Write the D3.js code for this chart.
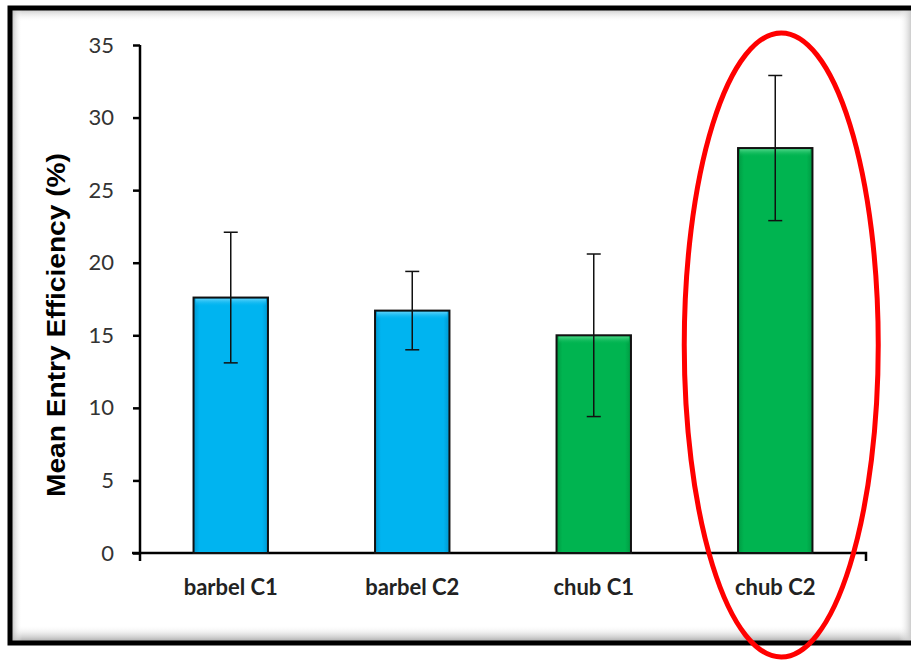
<!DOCTYPE html>
<html><head><meta charset="utf-8">
<script src="https://cdn.jsdelivr.net/npm/d3@7"></script>
<style>html,body{margin:0;padding:0;background:#fff;}svg{display:block;}</style>
</head><body>
<script>
const categories = ["barbel C1", "barbel C2", "chub C1", "chub C2"];
const means = [17.6, 16.7, 15.0, 27.9];
const errors = [4.5, 2.7, 5.6, 5.0];
const species = ["barbel", "barbel", "chub", "chub"];
const yTicks = [0, 5, 10, 15, 20, 25, 30, 35];
const highlighted = "chub C2";

const W = 911, H = 661;
const svg = d3.select("body").append("svg").attr("width", W).attr("height", H);
const defs = svg.append("defs");

// inner shadow gradients for the frame
const gTop = defs.append("linearGradient").attr("id","shT").attr("x1",0).attr("y1",0).attr("x2",0).attr("y2",1);
gTop.append("stop").attr("offset",0).attr("stop-color","#bbb");
gTop.append("stop").attr("offset",1).attr("stop-color","#fff").attr("stop-opacity",0);
const gBot = defs.append("linearGradient").attr("id","shB").attr("x1",0).attr("y1",1).attr("x2",0).attr("y2",0);
gBot.append("stop").attr("offset",0).attr("stop-color","#999");
gBot.append("stop").attr("offset",1).attr("stop-color","#fff").attr("stop-opacity",0);
const gL = defs.append("linearGradient").attr("id","shL").attr("x1",0).attr("y1",0).attr("x2",1).attr("y2",0);
gL.append("stop").attr("offset",0).attr("stop-color","#aaa");
gL.append("stop").attr("offset",1).attr("stop-color","#fff").attr("stop-opacity",0);
const gR = defs.append("linearGradient").attr("id","shR").attr("x1",1).attr("y1",0).attr("x2",0).attr("y2",0);
gR.append("stop").attr("offset",0).attr("stop-color","#ccc");
gR.append("stop").attr("offset",1).attr("stop-color","#fff").attr("stop-opacity",0);

// bar gradients (bevel look)
const fills = {barbel: {base:"#00B4F0", light:"#5fd2fa", dark:"#0098d0"}, chub: {base:"#00B450", light:"#4fd688", dark:"#009a42"}};
Object.entries(fills).forEach(([k, c]) => {
  const g = defs.append("linearGradient").attr("id","bar-"+k).attr("x1",0).attr("y1",0).attr("x2",1).attr("y2",0);
  g.append("stop").attr("offset",0).attr("stop-color",c.dark);
  g.append("stop").attr("offset",0.08).attr("stop-color",c.base);
  g.append("stop").attr("offset",0.92).attr("stop-color",c.base);
  g.append("stop").attr("offset",1).attr("stop-color",c.dark);
  const t = defs.append("linearGradient").attr("id","top-"+k).attr("x1",0).attr("y1",0).attr("x2",0).attr("y2",1);
  t.append("stop").attr("offset",0).attr("stop-color",c.light);
  t.append("stop").attr("offset",1).attr("stop-color",c.base).attr("stop-opacity",0);
});

// frame background with inner shadow
const fx = 10, fy = 8, fb = 643;
svg.append("rect").attr("x",fx).attr("y",fy).attr("width",W).attr("height",fb-fy).attr("fill","#fff");
svg.append("rect").attr("x",fx).attr("y",fy).attr("width",W).attr("height",14).attr("fill","url(#shT)");
svg.append("rect").attr("x",fx).attr("y",fb-18).attr("width",W).attr("height",18).attr("fill","url(#shB)");
svg.append("rect").attr("x",fx).attr("y",fy).attr("width",12).attr("height",fb-fy).attr("fill","url(#shL)");
svg.append("rect").attr("x",W-12).attr("y",fy).attr("width",12).attr("height",fb-fy).attr("fill","url(#shR)");
svg.append("rect").attr("x",fx).attr("y",fy).attr("width",W+20).attr("height",fb-fy)
  .attr("fill","none").attr("stroke","#000").attr("stroke-width",5);

// scales
const x0 = 140, x1 = 866, yTop = 45, yBot = 553;
const x = d3.scaleBand().domain(categories).range([x0, x1]).paddingInner(0.59).paddingOuter(0.295);
const y = d3.scaleLinear().domain([0, 35]).range([yBot, yTop]);

// axes
const yAxis = svg.append("g").attr("transform", `translate(${x0},0)`)
  .call(d3.axisLeft(y).tickValues(yTicks).tickSize(7).tickPadding(19).tickFormat(d3.format("d")));
yAxis.select(".domain").attr("stroke","#000").attr("stroke-width",2.5).attr("d", `M0,${yTop}V${yBot+8}`);
yAxis.selectAll(".tick line").attr("stroke","#000").attr("stroke-width",2.5);
yAxis.selectAll(".tick text").attr("font-family","Lato, 'Open Sans', sans-serif")
  .attr("font-size",22).attr("fill","#333");

const xAxis = svg.append("g").attr("transform", `translate(0,${yBot})`);
xAxis.append("path").attr("d", `M${x0-8},0H${x1}V8`).attr("stroke","#000").attr("stroke-width",2.5).attr("fill","none");
xAxis.selectAll("text").data(categories).join("text")
  .attr("x", d => x(d) + x.bandwidth()/2).attr("y", 42)
  .attr("text-anchor","middle").attr("font-family","Lato, 'Open Sans', sans-serif")
  .attr("font-weight","bold").attr("font-size",22).attr("fill","#222").text(d => d);

// bars
const bars = svg.append("g");
categories.forEach((c, i) => {
  const k = species[i];
  const bx = x(c), bw = x.bandwidth(), by = y(means[i]), bh = y(0) - y(means[i]);
  bars.append("rect").attr("x",bx).attr("y",by).attr("width",bw).attr("height",bh)
    .attr("fill",`url(#bar-${k})`);
  bars.append("rect").attr("x",bx+2).attr("y",by+1).attr("width",bw-4).attr("height",8)
    .attr("fill",`url(#top-${k})`);
  bars.append("rect").attr("x",bx).attr("y",by).attr("width",bw).attr("height",bh)
    .attr("fill","none").attr("stroke","#111").attr("stroke-width",2);
});

// error bars
const eb = svg.append("g").attr("stroke","#111").attr("stroke-width",1.5);
categories.forEach((c, i) => {
  const cx = x(c) + x.bandwidth()/2;
  const hi = y(means[i] + errors[i]), lo = y(means[i] - errors[i]);
  eb.append("line").attr("x1",cx).attr("x2",cx).attr("y1",hi).attr("y2",lo);
  eb.append("line").attr("x1",cx-7).attr("x2",cx+7).attr("y1",hi).attr("y2",hi);
  eb.append("line").attr("x1",cx-7).attr("x2",cx+7).attr("y1",lo).attr("y2",lo);
});

// y-axis title
svg.append("text").attr("transform","translate(65,325) rotate(-90)")
  .attr("text-anchor","middle").attr("font-family","'Liberation Sans', Arial, sans-serif")
  .attr("font-weight","bold").attr("font-size",26).attr("fill","#000")
  .attr("textLength",344).attr("lengthAdjust","spacingAndGlyphs")
  .text("Mean Entry Efficiency (%)");

// highlight ellipse
const hc = x(highlighted) + x.bandwidth()/2;
svg.append("ellipse").attr("cx", hc + 6).attr("cy", 345).attr("rx", 97).attr("ry", 312)
  .attr("fill","none").attr("stroke","#ff0000").attr("stroke-width",5);
</script>
</body></html>
